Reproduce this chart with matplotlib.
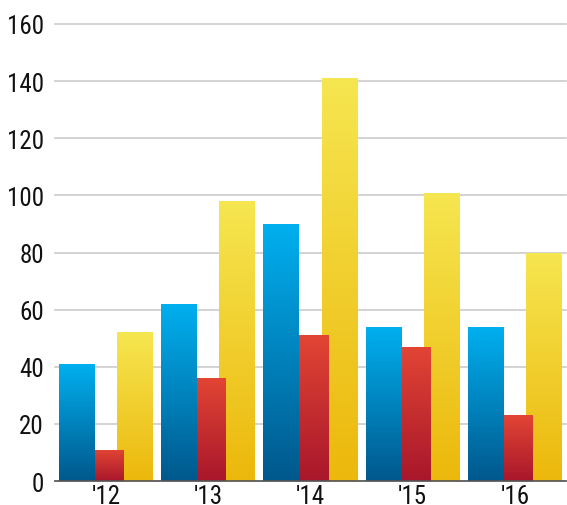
import matplotlib
matplotlib.use("Agg")
import matplotlib.pyplot as plt
import numpy as np
from matplotlib.colors import LinearSegmentedColormap

years = ["'12", "'13", "'14", "'15", "'16"]
blue_vals = [41, 62, 90, 54, 54]
red_vals = [11, 36, 51, 47, 23]
yellow_vals = [52, 98, 141, 101, 80]

plt.rcParams['font.family'] = ['Roboto Condensed', 'Roboto', 'DejaVu Sans']

fig = plt.figure(figsize=(5.67, 5.06), dpi=100)
ax = fig.add_axes([55 / 567, 1 - 482 / 506, 511 / 567, 457 / 506])

x = np.arange(len(years))
width = 0.352
offset = 0.284

series = [
    (yellow_vals, offset, ('#ecb80c', '#f6e650'), 1),
    (red_vals, 0.0, ('#a8172b', '#e24534'), 2),
    (blue_vals, -offset, ('#00588c', '#00b0f0'), 3),
]

grad = np.linspace(0, 1, 256).reshape(-1, 1)
for vals, off, cols, z in series:
    cmap = LinearSegmentedColormap.from_list('g', list(cols))
    bars = ax.bar(x + off, vals, width, color='none', zorder=z)
    for b in bars:
        x0, w, h = b.get_x(), b.get_width(), b.get_height()
        im = ax.imshow(grad, cmap=cmap, origin='lower', aspect='auto',
                       extent=(x0, x0 + w, 0, h), zorder=z)
        im.set_clip_path(b)

ax.set_xlim(-0.5, len(years) - 0.5)
ax.set_ylim(0, 160)
ax.set_yticks(range(0, 161, 20))
ax.set_xticks(x)
ax.set_xticklabels(years)
ax.tick_params(axis='both', length=0, labelsize=18, colors='#111111')
ax.tick_params(axis='y', pad=8)
ax.tick_params(axis='x', pad=2)
ax.grid(axis='y', color='#cccccc', linewidth=1.2, zorder=0)
for gl in ax.get_ygridlines():
    gl.set_clip_on(False)
ax.set_axisbelow(True)
for s in ['top', 'right', 'left']:
    ax.spines[s].set_visible(False)
ax.spines['bottom'].set_color('#555555')
ax.spines['bottom'].set_linewidth(1.2)
ax.spines['bottom'].set_zorder(5)

fig.savefig('out.png', dpi=100)
